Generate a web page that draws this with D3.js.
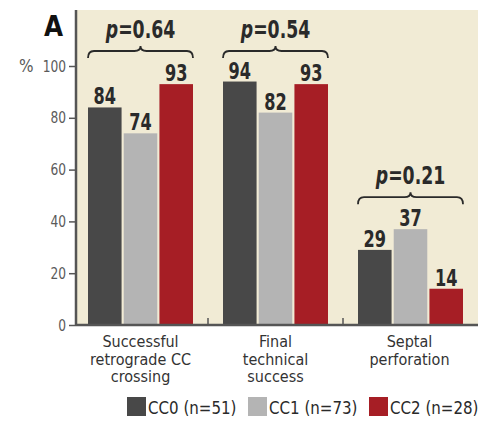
<!DOCTYPE html>
<html>
<head>
<meta charset="utf-8">
<script src="https://cdn.jsdelivr.net/npm/d3@7"></script>
<style>
html,body{margin:0;padding:0;background:#fff;}
svg{display:block;}
</style>
</head>
<body>
<svg id="chart" width="503" height="421"></svg>
<script>
const categories = [["Successful","retrograde CC","crossing"],["Final","technical","success"],["Septal","perforation"]];
const catKeys = ["crossing","technical","septal"];
const seriesNames = ["CC0 (n=51)","CC1 (n=73)","CC2 (n=28)"];
const cc0 = [84, 94, 29];
const cc1 = [74, 82, 37];
const cc2 = [93, 93, 14];
const pValues = ["0.64","0.54","0.21"];
const yTicks = [0,20,40,60,80,100];
const colors = ["#484848","#b4b4b4","#a61e25"];

const series = [cc0, cc1, cc2];
const svg = d3.select("#chart");
const numFont = "'DejaVu Sans Condensed','DejaVu Sans',sans-serif";
const txtFont = "'DejaVu Sans Condensed','DejaVu Sans',sans-serif";

const x0 = d3.scaleBand().domain(catKeys).range([73,478]).paddingInner(0).paddingOuter(0);
const x1 = d3.scaleBand().domain([0,1,2]).range([15, 120]).paddingInner(0.06);
const y = d3.scaleLinear().domain([0,100]).range([325,66]);

function narrowText(sel, x, yy, sx){
  return sel.append("text").attr("transform",`translate(${x},${yy}) scale(${sx},1)`);
}

// background
svg.append("rect").attr("x",77).attr("y",10).attr("width",401).attr("height",315).attr("fill","#f1ebd5");

// bars
catKeys.forEach((k,i)=>{
  const g = svg.append("g").attr("transform",`translate(${x0(k)},0)`);
  series.forEach((s,j)=>{
    g.append("rect").attr("x",x1(j)).attr("width",x1.bandwidth())
      .attr("y",y(s[i])).attr("height",y(0)-y(s[i])).attr("fill",colors[j]);
    narrowText(g, x1(j)+x1.bandwidth()/2, y(s[i])-3, 0.78)
      .attr("text-anchor","middle").attr("font-family",numFont).attr("font-weight","bold")
      .attr("font-size",23).attr("fill","#2a2a2a").text(s[i]);
  });
});

// y axis
const yAxis = d3.axisLeft(y).tickValues(yTicks).tickSize(7).tickPadding(2);
const ya = svg.append("g").attr("transform","translate(76,0)").call(yAxis);
ya.select(".domain").attr("d","M0,10V325").attr("stroke","#555").attr("stroke-width",2.5);
ya.selectAll(".tick line").attr("stroke","#555").attr("stroke-width",1.5);
ya.selectAll(".tick text").attr("font-family",numFont).attr("font-size",16).attr("fill","#5a5a5a")
  .attr("transform","scale(0.85,1)").attr("x",-10/0.85);
svg.append("text").attr("x",19).attr("y",y(100)+6).attr("font-family",numFont).attr("font-size",17).attr("fill","#5a5a5a").text("%");

// x axis
svg.append("line").attr("x1",76).attr("x2",478).attr("y1",325).attr("y2",325).attr("stroke","#555").attr("stroke-width",2.5);
catKeys.slice(1).forEach(k=>{
  svg.append("line").attr("x1",x0(k)).attr("x2",x0(k)).attr("y1",325).attr("y2",318).attr("stroke","#555").attr("stroke-width",1.5);
});

// category labels
catKeys.forEach((k,i)=>{
  categories[i].forEach((line,li)=>{
    svg.append("text").attr("text-anchor","middle").attr("font-family",txtFont)
      .attr("font-size",16).attr("fill","#333")
      .attr("x",x0(k)+x0.bandwidth()/2 + (i===2?-1:0)).attr("y",347+li*17.5).text(line);
  });
});

// braces + p values
function brace(xa, xb, yb){
  const xm = (xa+xb)/2, yt = yb-7, yp = yb-12;
  return `M${xa},${yb} Q${xa},${yt} ${xa+6},${yt} L${xm-6},${yt} Q${xm},${yt} ${xm},${yp} Q${xm},${yt} ${xm+6},${yt} L${xb-6},${yt} Q${xb},${yt} ${xb},${yb}`;
}
catKeys.forEach((k,i)=>{
  const xa = x0(k)+x1(0), xb = x0(k)+x1(2)+x1.bandwidth();
  const maxV = d3.max(series, s=>s[i]);
  const yb = i===2 ? y(maxV)-25 : 58;
  svg.append("path").attr("d",brace(xa,xb,yb)).attr("fill","none").attr("stroke","#2a2a2a").attr("stroke-width",1.8);
  const t = narrowText(svg, (xa+xb)/2, yb-20, 0.8).attr("text-anchor","middle")
    .attr("font-family",numFont).attr("font-weight","bold").attr("font-size",24).attr("fill","#2a2a2a");
  t.append("tspan").attr("font-style","italic").text("p");
  t.append("tspan").text("=" + pValues[i]);
});

// panel letter
narrowText(svg, 44, 36, 0.85).attr("font-family","'DejaVu Sans','Liberation Sans',sans-serif")
  .attr("font-weight","bold").attr("font-size",29).attr("fill","#111").text("A");

// legend
const legX = [127, 248, 369];
seriesNames.forEach((n,j)=>{
  svg.append("rect").attr("x",legX[j]).attr("y",397).attr("width",19).attr("height",19).attr("fill",colors[j]);
  narrowText(svg, legX[j]+21, 414, 0.93).attr("font-family",numFont)
    .attr("font-size",18).attr("fill","#2a2a2a").text(n);
});
</script>
</body>
</html>
